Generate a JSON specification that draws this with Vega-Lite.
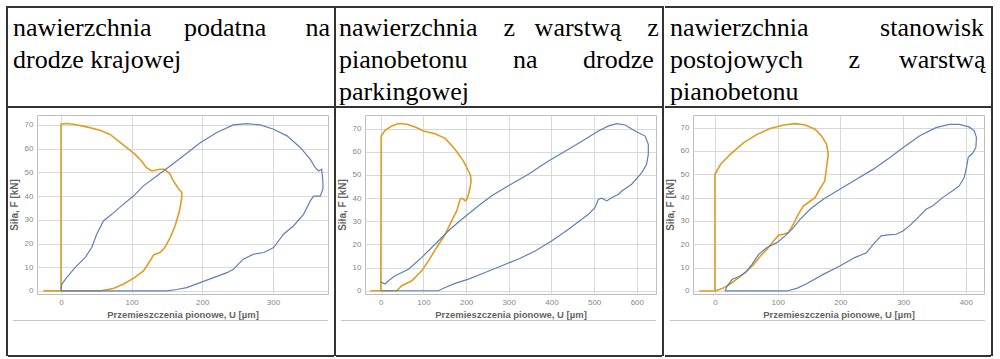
{
"$schema": "https://vega.github.io/schema/vega-lite/v6.json",
"background": "white",
"padding": {"left": 6, "top": 6, "right": 0, "bottom": 0},
"datasets": {
"headers": [
{"panel": 1, "label": "nawierzchnia\u00a0\u00a0\u00a0\u00a0\u00a0podatna\u00a0\u00a0\u00a0\u00a0\u00a0\u00a0na\ndrodze krajowej"},
{"panel": 2, "label": "nawierzchnia\u00a0\u00a0\u00a0\u00a0z\u00a0\u00a0\u00a0warstwą\u00a0\u00a0\u00a0\u00a0z\npianobetonu\u00a0\u00a0\u00a0\u00a0\u00a0\u00a0\u00a0na\u00a0\u00a0\u00a0\u00a0\u00a0\u00a0\u00a0drodze\nparkingowej"},
{"panel": 3, "label": "nawierzchnia\u00a0\u00a0\u00a0\u00a0\u00a0\u00a0\u00a0\u00a0\u00a0\u00a0\u00a0stanowisk\npostojowych\u00a0\u00a0\u00a0\u00a0\u00a0\u00a0\u00a0z\u00a0\u00a0\u00a0\u00a0\u00a0\u00a0warstwą\npianobetonu"}
],
"p1": [
{"series":"o","i":0,"u":-25,"f":0},{"series":"o","i":1,"u":55,"f":0},{"series":"o","i":2,"u":74,"f":1},{"series":"o","i":3,"u":88,"f":2.8},{"series":"o","i":4,"u":102.5,"f":5.3},{"series":"o","i":5,"u":116.7,"f":8.4},{"series":"o","i":6,"u":126,"f":12.6},{"series":"o","i":7,"u":131,"f":15.2},{"series":"o","i":8,"u":140,"f":16.2},{"series":"o","i":9,"u":147,"f":18.3},{"series":"o","i":10,"u":154.5,"f":22.5},{"series":"o","i":11,"u":161.5,"f":27.4},{"series":"o","i":12,"u":167.7,"f":33.7},{"series":"o","i":13,"u":171,"f":39.4},{"series":"o","i":14,"u":171,"f":41.5},{"series":"o","i":15,"u":166,"f":43.3},{"series":"o","i":16,"u":159,"f":46.4},{"series":"o","i":17,"u":154.5,"f":49.2},{"series":"o","i":18,"u":147,"f":51.3},{"series":"o","i":19,"u":140,"f":51.3},{"series":"o","i":20,"u":133,"f":50.9},{"series":"o","i":21,"u":128.5,"f":50.6},{"series":"o","i":22,"u":121,"f":52},{"series":"o","i":23,"u":114,"f":54.8},{"series":"o","i":24,"u":105,"f":57.6},{"series":"o","i":25,"u":93,"f":60.4},{"series":"o","i":26,"u":81,"f":63.3},{"series":"o","i":27,"u":69.4,"f":66},{"series":"o","i":28,"u":55,"f":67.8},{"series":"o","i":29,"u":36.4,"f":69.2},{"series":"o","i":30,"u":17.5,"f":70.3},{"series":"o","i":31,"u":5.7,"f":70.6},{"series":"o","i":32,"u":0,"f":70.3},{"series":"o","i":33,"u":0,"f":0},
{"series":"b","i":0,"u":0,"f":0},{"series":"b","i":1,"u":1,"f":2.8},{"series":"b","i":2,"u":8,"f":5.6},{"series":"b","i":3,"u":19.8,"f":9.8},{"series":"b","i":4,"u":34,"f":14},{"series":"b","i":5,"u":43.5,"f":18.3},{"series":"b","i":6,"u":50.5,"f":23.9},{"series":"b","i":7,"u":60,"f":29.5},{"series":"b","i":8,"u":71.8,"f":32.3},{"series":"b","i":9,"u":88,"f":36.5},{"series":"b","i":10,"u":102.5,"f":40},{"series":"b","i":11,"u":116.7,"f":44.3},{"series":"b","i":12,"u":135.6,"f":48.5},{"series":"b","i":13,"u":154.5,"f":52.7},{"series":"b","i":14,"u":173,"f":56.9},{"series":"b","i":15,"u":197,"f":62.5},{"series":"b","i":16,"u":220.6,"f":66.8},{"series":"b","i":17,"u":244,"f":70},{"series":"b","i":18,"u":263,"f":70.6},{"series":"b","i":19,"u":282,"f":70},{"series":"b","i":20,"u":301,"f":68.2},{"series":"b","i":21,"u":320,"f":65.4},{"series":"b","i":22,"u":339,"f":60.4},{"series":"b","i":23,"u":353,"f":55.5},{"series":"b","i":24,"u":360,"f":52},{"series":"b","i":25,"u":364.7,"f":50.6},{"series":"b","i":26,"u":369,"f":51.3},{"series":"b","i":27,"u":370.8,"f":46.4},{"series":"b","i":28,"u":370.8,"f":42.9},{"series":"b","i":29,"u":367,"f":40},{"series":"b","i":30,"u":357.6,"f":40},{"series":"b","i":31,"u":353,"f":38},{"series":"b","i":32,"u":343.4,"f":32.3},{"series":"b","i":33,"u":329,"f":27.4},{"series":"b","i":34,"u":315,"f":23.9},{"series":"b","i":35,"u":301,"f":18.3},{"series":"b","i":36,"u":287,"f":16.2},{"series":"b","i":37,"u":272.5,"f":15.5},{"series":"b","i":38,"u":258,"f":13.4},{"series":"b","i":39,"u":244,"f":9.1},{"series":"b","i":40,"u":235,"f":7.7},{"series":"b","i":41,"u":216,"f":5.6},{"series":"b","i":42,"u":197,"f":3.5},{"series":"b","i":43,"u":178,"f":1.4},{"series":"b","i":44,"u":164,"f":0.6},{"series":"b","i":45,"u":150,"f":0},{"series":"b","i":46,"u":0,"f":0}
],
"p2": [
{"series":"o","i":0,"u":-25,"f":0},{"series":"o","i":1,"u":37.5,"f":0},{"series":"o","i":2,"u":49,"f":2.2},{"series":"o","i":3,"u":72.7,"f":4.3},{"series":"o","i":4,"u":96,"f":8.6},{"series":"o","i":5,"u":111.7,"f":12.9},{"series":"o","i":6,"u":131,"f":18.7},{"series":"o","i":7,"u":151,"f":24.4},{"series":"o","i":8,"u":166,"f":30.2},{"series":"o","i":9,"u":178,"f":34.5},{"series":"o","i":10,"u":186,"f":39.5},{"series":"o","i":11,"u":190,"f":40},{"series":"o","i":12,"u":194,"f":39.5},{"series":"o","i":13,"u":197.7,"f":38.8},{"series":"o","i":14,"u":201.6,"f":39.5},{"series":"o","i":15,"u":205.5,"f":41.7},{"series":"o","i":16,"u":209.4,"f":44.6},{"series":"o","i":17,"u":211.7,"f":47.4},{"series":"o","i":18,"u":210,"f":50},{"series":"o","i":19,"u":205.5,"f":51.7},{"series":"o","i":20,"u":193.8,"f":56},{"series":"o","i":21,"u":174,"f":61.1},{"series":"o","i":22,"u":151,"f":65.8},{"series":"o","i":23,"u":127,"f":67.8},{"series":"o","i":24,"u":100,"f":69},{"series":"o","i":25,"u":80.5,"f":70.7},{"series":"o","i":26,"u":61,"f":71.9},{"series":"o","i":27,"u":41.4,"f":72.2},{"series":"o","i":28,"u":25.8,"f":71.2},{"series":"o","i":29,"u":10.2,"f":69.3},{"series":"o","i":30,"u":1,"f":66.8},{"series":"o","i":31,"u":0,"f":0},
{"series":"b","i":0,"u":1,"f":4},{"series":"b","i":1,"u":2.3,"f":3.6},{"series":"b","i":2,"u":10,"f":2.9},{"series":"b","i":3,"u":18,"f":4.3},{"series":"b","i":4,"u":33.6,"f":6.5},{"series":"b","i":5,"u":65,"f":9.3},{"series":"b","i":6,"u":96,"f":14.4},{"series":"b","i":7,"u":127,"f":20.1},{"series":"b","i":8,"u":158.6,"f":25.9},{"series":"b","i":9,"u":190,"f":30.9},{"series":"b","i":10,"u":229,"f":36.7},{"series":"b","i":11,"u":260,"f":41},{"series":"b","i":12,"u":299,"f":45.3},{"series":"b","i":13,"u":346,"f":50.3},{"series":"b","i":14,"u":393,"f":56},{"series":"b","i":15,"u":440,"f":61.1},{"series":"b","i":16,"u":479,"f":65.4},{"series":"b","i":17,"u":510,"f":69},{"series":"b","i":18,"u":534,"f":71.2},{"series":"b","i":19,"u":553,"f":72.2},{"series":"b","i":20,"u":572.7,"f":71.6},{"series":"b","i":21,"u":596,"f":69},{"series":"b","i":22,"u":619.5,"f":66.8},{"series":"b","i":23,"u":627,"f":63.2},{"series":"b","i":24,"u":627,"f":59},{"series":"b","i":25,"u":623,"f":54.6},{"series":"b","i":26,"u":611.7,"f":51},{"series":"b","i":27,"u":588,"f":46},{"series":"b","i":28,"u":565,"f":43.1},{"series":"b","i":29,"u":557,"f":41.7},{"series":"b","i":30,"u":541,"f":40.2},{"series":"b","i":31,"u":529.7,"f":38.8},{"series":"b","i":32,"u":518,"f":40},{"series":"b","i":33,"u":510,"f":39.5},{"series":"b","i":34,"u":502,"f":35.9},{"series":"b","i":35,"u":486.7,"f":33},{"series":"b","i":36,"u":471,"f":30.9},{"series":"b","i":37,"u":440,"f":26.6},{"series":"b","i":38,"u":401,"f":21.6},{"series":"b","i":39,"u":362,"f":17.2},{"series":"b","i":40,"u":323,"f":13.7},{"series":"b","i":41,"u":283.6,"f":10.8},{"series":"b","i":42,"u":244.5,"f":7.9},{"series":"b","i":43,"u":205.5,"f":5},{"series":"b","i":44,"u":174,"f":3.2},{"series":"b","i":45,"u":151,"f":1.4},{"series":"b","i":46,"u":135,"f":0},{"series":"b","i":47,"u":0,"f":0}
],
"p3": [
{"series":"o","i":0,"u":-25,"f":0},{"series":"o","i":1,"u":0,"f":0},{"series":"o","i":2,"u":0,"f":50},{"series":"o","i":3,"u":9,"f":54.3},{"series":"o","i":4,"u":24.8,"f":58.6},{"series":"o","i":5,"u":46,"f":63.6},{"series":"o","i":6,"u":67,"f":67.1},{"series":"o","i":7,"u":88,"f":69.6},{"series":"o","i":8,"u":109.4,"f":71.1},{"series":"o","i":9,"u":128,"f":71.7},{"series":"o","i":10,"u":144,"f":71.1},{"series":"o","i":11,"u":159.6,"f":69.3},{"series":"o","i":12,"u":170,"f":66.4},{"series":"o","i":13,"u":178,"f":62.9},{"series":"o","i":14,"u":180.7,"f":58.6},{"series":"o","i":15,"u":178,"f":52.9},{"series":"o","i":16,"u":175,"f":47.1},{"series":"o","i":17,"u":167,"f":43.6},{"series":"o","i":18,"u":159.6,"f":40},{"series":"o","i":19,"u":149,"f":37.9},{"series":"o","i":20,"u":141,"f":36.4},{"series":"o","i":21,"u":133,"f":32.9},{"series":"o","i":22,"u":125,"f":28.6},{"series":"o","i":23,"u":117,"f":25},{"series":"o","i":24,"u":109.4,"f":24.3},{"series":"o","i":25,"u":101.5,"f":23.9},{"series":"o","i":26,"u":93.5,"f":21.4},{"series":"o","i":27,"u":83,"f":17.9},{"series":"o","i":28,"u":72.4,"f":15},{"series":"o","i":29,"u":61.8,"f":11.4},{"series":"o","i":30,"u":51,"f":8.6},{"series":"o","i":31,"u":38,"f":5.7},{"series":"o","i":32,"u":24.8,"f":3.1},{"series":"o","i":33,"u":11.6,"f":1},{"series":"o","i":34,"u":0,"f":0},
{"series":"b","i":0,"u":15.9,"f":0},{"series":"b","i":1,"u":19.6,"f":2.1},{"series":"b","i":2,"u":27.5,"f":5},{"series":"b","i":3,"u":38,"f":6.1},{"series":"b","i":4,"u":48.6,"f":7.9},{"series":"b","i":5,"u":59,"f":11.4},{"series":"b","i":6,"u":69.7,"f":15.7},{"series":"b","i":7,"u":83,"f":18.6},{"series":"b","i":8,"u":98.8,"f":20.7},{"series":"b","i":9,"u":112,"f":23.6},{"series":"b","i":10,"u":122.6,"f":26.4},{"series":"b","i":11,"u":135.8,"f":30.7},{"series":"b","i":12,"u":151.6,"f":35},{"series":"b","i":13,"u":172.7,"f":39.3},{"series":"b","i":14,"u":199,"f":43.6},{"series":"b","i":15,"u":225.6,"f":47.9},{"series":"b","i":16,"u":252,"f":52.1},{"series":"b","i":17,"u":278.5,"f":57.1},{"series":"b","i":18,"u":299.6,"f":61.4},{"series":"b","i":19,"u":326,"f":66.4},{"series":"b","i":20,"u":352.4,"f":70},{"series":"b","i":21,"u":373.6,"f":71.4},{"series":"b","i":22,"u":389.4,"f":71.4},{"series":"b","i":23,"u":405,"f":70.3},{"series":"b","i":24,"u":413.5,"f":68.6},{"series":"b","i":25,"u":417,"f":65.7},{"series":"b","i":26,"u":416,"f":61.4},{"series":"b","i":27,"u":410.6,"f":58.9},{"series":"b","i":28,"u":404,"f":57.4},{"series":"b","i":29,"u":401,"f":52.9},{"series":"b","i":30,"u":397.4,"f":48.6},{"series":"b","i":31,"u":389.4,"f":45},{"series":"b","i":32,"u":378.9,"f":42.9},{"series":"b","i":33,"u":363,"f":40},{"series":"b","i":34,"u":347,"f":36.4},{"series":"b","i":35,"u":336.6,"f":35},{"series":"b","i":36,"u":326,"f":32.1},{"series":"b","i":37,"u":310,"f":27.9},{"series":"b","i":38,"u":299.6,"f":25.7},{"series":"b","i":39,"u":289,"f":24.3},{"series":"b","i":40,"u":275.8,"f":24},{"series":"b","i":41,"u":265,"f":23.6},{"series":"b","i":42,"u":254.7,"f":20.7},{"series":"b","i":43,"u":241.5,"f":16.4},{"series":"b","i":44,"u":223,"f":14.3},{"series":"b","i":45,"u":199,"f":10.7},{"series":"b","i":46,"u":172.8,"f":7.1},{"series":"b","i":47,"u":146,"f":3.1},{"series":"b","i":48,"u":130.5,"f":1.1},{"series":"b","i":49,"u":114.7,"f":0},{"series":"b","i":50,"u":15.9,"f":0}
]
},
"spacing": 0,
"hconcat": [
{"data": {"values": []}, "mark": "point", "width": 2, "height": 350, "view": {"fill": "#333", "stroke": null}},
{"spacing": 0, "vconcat": [
  {"data": {"values": []}, "mark": "point", "width": 326, "height": 2, "view": {"fill": "#333", "stroke": null}},
  {"data": {"name": "headers"}, "transform": [{"filter": "datum.panel === 1"}], "width": 326, "height": 98, "view": {"stroke": null},
   "mark": {"type": "text", "align": "left", "baseline": "alphabetic", "dx": 5, "dy": 28, "font": "Liberation Serif", "fontSize": 26, "lineBreak": "\n", "lineHeight": 32, "color": "black"},
   "encoding": {"text": {"field": "label", "type": "nominal"}, "x": {"value": 0}, "y": {"value": 0}}},
  {"spacing": 6, "vconcat": [
    {"data": {"values": []}, "mark": "point", "width": 326, "height": 2, "view": {"fill": "#333", "stroke": null}},
    {"spacing": 34, "vconcat": [
      {"spacing": 1, "vconcat": [
        {"spacing": 0, "bounds": "flush", "hconcat": [
          {"data": {"values": []}, "mark": "point", "width": 29, "height": 179, "view": {"stroke": null}},
          {"data": {"name": "p1"}, "width": 291, "height": 179,
           "encoding": {
             "x": {"field": "u", "type": "quantitative", "scale": {"domain": [-34, 378], "nice": false, "zero": false}, "axis": {"values": [0, 100, 200, 300], "title": "Przemieszczenia pionowe, U [µm]"}},
             "y": {"field": "f", "type": "quantitative", "scale": {"domain": [-1.3, 74.2], "nice": false, "zero": false}, "axis": {"values": [0, 10, 20, 30, 40, 50, 60, 70], "title": "Siła, F [kN]"}},
             "order": {"field": "i"}},
           "layer": [
             {"transform": [{"filter": "datum.series === 'o'"}], "mark": {"type": "line", "color": "#E19C24", "strokeWidth": 1.6}},
             {"transform": [{"filter": "datum.series === 'b'"}], "mark": {"type": "line", "color": "#5E81B5", "strokeWidth": 1.2}}
           ]}
        ]},
        {"spacing": 0, "hconcat": [
          {"data": {"values": []}, "mark": "point", "width": 5, "height": 1, "view": {"stroke": null}},
          {"data": {"values": []}, "mark": "point", "width": 315, "height": 1, "view": {"fill": "#c8c8c8", "stroke": null}}
        ]}
      ]},
      {"data": {"values": []}, "mark": "point", "width": 326, "height": 2, "view": {"fill": "#333", "stroke": null}}
    ]}
  ]}
]},
{"data": {"values": []}, "mark": "point", "width": 2, "height": 350, "view": {"fill": "#333", "stroke": null}},
{"spacing": 0, "vconcat": [
  {"data": {"values": []}, "mark": "point", "width": 326, "height": 2, "view": {"fill": "#333", "stroke": null}},
  {"data": {"name": "headers"}, "transform": [{"filter": "datum.panel === 2"}], "width": 326, "height": 98, "view": {"stroke": null},
   "mark": {"type": "text", "align": "left", "baseline": "alphabetic", "dx": 3, "dy": 28, "font": "Liberation Serif", "fontSize": 26, "lineBreak": "\n", "lineHeight": 32, "color": "black"},
   "encoding": {"text": {"field": "label", "type": "nominal"}, "x": {"value": 0}, "y": {"value": 0}}},
  {"spacing": 6, "vconcat": [
    {"data": {"values": []}, "mark": "point", "width": 326, "height": 2, "view": {"fill": "#333", "stroke": null}},
    {"spacing": 34, "vconcat": [
      {"spacing": 1, "vconcat": [
        {"spacing": 0, "bounds": "flush", "hconcat": [
          {"data": {"values": []}, "mark": "point", "width": 29, "height": 179, "view": {"stroke": null}},
          {"data": {"name": "p2"}, "width": 291, "height": 179,
           "encoding": {
             "x": {"field": "u", "type": "quantitative", "scale": {"domain": [-37, 645], "nice": false, "zero": false}, "axis": {"values": [0, 100, 200, 300, 400, 500, 600], "title": "Przemieszczenia pionowe, U [µm]"}},
             "y": {"field": "f", "type": "quantitative", "scale": {"domain": [-1.4, 75.9], "nice": false, "zero": false}, "axis": {"values": [0, 10, 20, 30, 40, 50, 60, 70], "title": "Siła, F [kN]"}},
             "order": {"field": "i"}},
           "layer": [
             {"transform": [{"filter": "datum.series === 'o'"}], "mark": {"type": "line", "color": "#E19C24", "strokeWidth": 1.6}},
             {"transform": [{"filter": "datum.series === 'b'"}], "mark": {"type": "line", "color": "#5E81B5", "strokeWidth": 1.2}}
           ]}
        ]},
        {"spacing": 0, "hconcat": [
          {"data": {"values": []}, "mark": "point", "width": 5, "height": 1, "view": {"stroke": null}},
          {"data": {"values": []}, "mark": "point", "width": 315, "height": 1, "view": {"fill": "#c8c8c8", "stroke": null}}
        ]}
      ]},
      {"data": {"values": []}, "mark": "point", "width": 326, "height": 2, "view": {"fill": "#333", "stroke": null}}
    ]}
  ]}
]},
{"data": {"values": []}, "mark": "point", "width": 2, "height": 350, "view": {"fill": "#333", "stroke": null}},
{"spacing": 0, "vconcat": [
  {"data": {"values": []}, "mark": "point", "width": 326, "height": 2, "view": {"fill": "#333", "stroke": null}},
  {"data": {"name": "headers"}, "transform": [{"filter": "datum.panel === 3"}], "width": 326, "height": 98, "view": {"stroke": null},
   "mark": {"type": "text", "align": "left", "baseline": "alphabetic", "dx": 5, "dy": 28, "font": "Liberation Serif", "fontSize": 26, "lineBreak": "\n", "lineHeight": 32, "color": "black"},
   "encoding": {"text": {"field": "label", "type": "nominal"}, "x": {"value": 0}, "y": {"value": 0}}},
  {"spacing": 6, "vconcat": [
    {"data": {"values": []}, "mark": "point", "width": 326, "height": 2, "view": {"fill": "#333", "stroke": null}},
    {"spacing": 34, "vconcat": [
      {"spacing": 1, "vconcat": [
        {"spacing": 0, "bounds": "flush", "hconcat": [
          {"data": {"values": []}, "mark": "point", "width": 28, "height": 179, "view": {"stroke": null}},
          {"data": {"name": "p3"}, "width": 291, "height": 179,
           "encoding": {
             "x": {"field": "u", "type": "quantitative", "scale": {"domain": [-35, 429], "nice": false, "zero": false}, "axis": {"values": [0, 100, 200, 300, 400], "title": "Przemieszczenia pionowe, U [µm]"}},
             "y": {"field": "f", "type": "quantitative", "scale": {"domain": [-1.3, 75.4], "nice": false, "zero": false}, "axis": {"values": [0, 10, 20, 30, 40, 50, 60, 70], "title": "Siła, F [kN]"}},
             "order": {"field": "i"}},
           "layer": [
             {"transform": [{"filter": "datum.series === 'o'"}], "mark": {"type": "line", "color": "#E19C24", "strokeWidth": 1.6}},
             {"transform": [{"filter": "datum.series === 'b'"}], "mark": {"type": "line", "color": "#5E81B5", "strokeWidth": 1.2}}
           ]}
        ]},
        {"spacing": 0, "hconcat": [
          {"data": {"values": []}, "mark": "point", "width": 5, "height": 1, "view": {"stroke": null}},
          {"data": {"values": []}, "mark": "point", "width": 315, "height": 1, "view": {"fill": "#c8c8c8", "stroke": null}}
        ]}
      ]},
      {"data": {"values": []}, "mark": "point", "width": 326, "height": 2, "view": {"fill": "#333", "stroke": null}}
    ]}
  ]}
]},
{"data": {"values": []}, "mark": "point", "width": 2, "height": 350, "view": {"fill": "#333", "stroke": null}}
],
"config": {
  "view": {"stroke": "#bdbdbd"},
  "axis": {"grid": true, "gridColor": "#d9d9d9", "domain": false, "ticks": false, "labelFont": "Liberation Sans", "labelFontSize": 8, "labelColor": "#888888", "labelPadding": 4, "titleFont": "Liberation Sans", "titleFontSize": 9.5, "titleFontWeight": "bold", "titleColor": "#666666"},
  "axisY": {"minExtent": 14, "maxExtent": 14, "titlePadding": 4, "titleFontSize": 10},
  "axisX": {"titlePadding": 3}
}
}
